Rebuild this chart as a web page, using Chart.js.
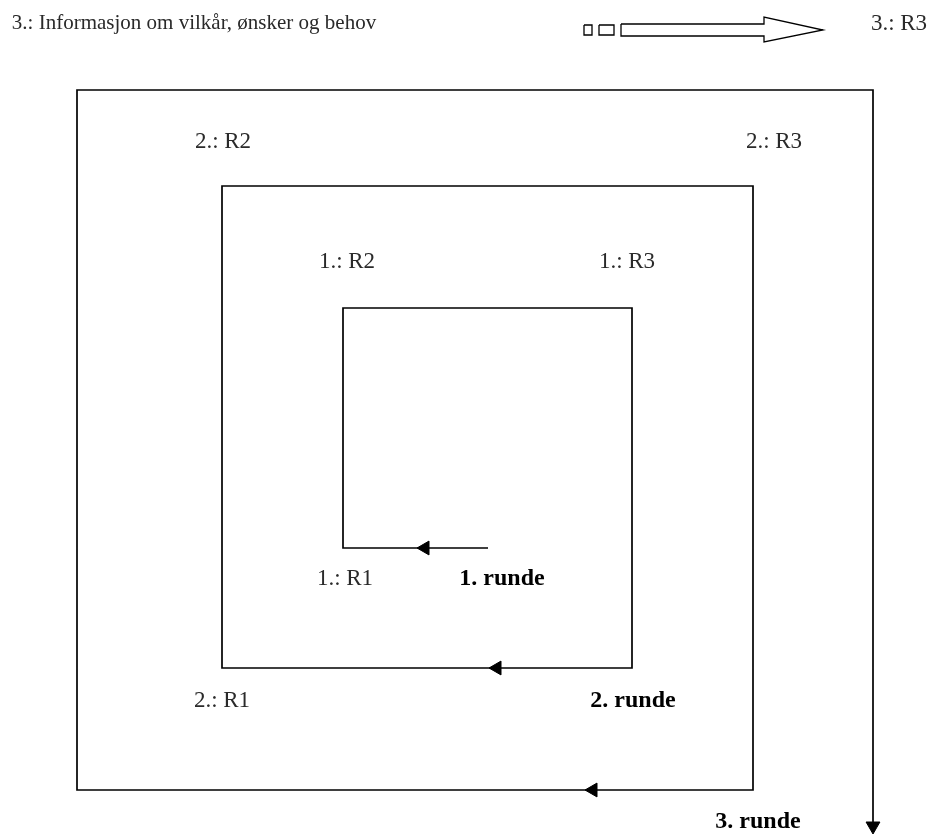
<!DOCTYPE html>
<html lang="no">
<head>
    <meta charset="UTF-8">
    <title>Runder</title>
    <script src="https://cdn.jsdelivr.net/npm/chart.js"></script>
    <style>
        body { margin: 0; background: #fff; }
        .wrap { width: 936px; height: 835px; position: relative; }
    </style>
</head>
<body>
    <div class="wrap"><canvas id="spiral"></canvas></div>

    <script>
        // spiralen (1., 2. og 3. runde) som en sammenhengende linje
        const spiralX = [488, 343, 343, 632, 632, 222, 222, 753, 753, 77, 77, 873, 873];
        const spiralY = [548, 548, 308, 308, 668, 668, 186, 186, 790, 790, 90, 90, 826];

        // pilspisser langs spiralen
        const arrowX = [425, 497, 593, 873];
        const arrowY = [548, 668, 790, 826];
        const arrowRot = [-90, -90, -90, 180];

        // blokkpil øverst + to små firkanter
        const blockX = [621, 764, 764, 823, 764, 764, 621, 621];
        const blockY = [24, 24, 17, 30, 42, 36, 36, 24];
        const sq1X = [584, 592, 592, 584, 584];
        const sq1Y = [25, 25, 35, 35, 25];
        const sq2X = [599, 614, 614, 599, 599];
        const sq2Y = [25, 25, 35, 35, 25];

        // tekster (x = midten, y = grunnlinje)
        const labelText = ['3.: Informasjon om vilkår, ønsker og behov', '3.: R3',
            '2.: R2', '2.: R3', '1.: R2', '1.: R3', '1.: R1', '1. runde',
            '2.: R1', '2. runde', '3. runde'];
        const labelX = [194, 899, 223, 774, 347, 627, 345, 502, 222, 633, 758];
        const labelY = [29, 30, 148, 148, 268, 268, 585, 585, 707, 707, 828];
        const labelBold = [false, false, false, false, false, false, false, true, false, true, true];

        const pts = (xs, ys) => xs.map((x, i) => ({ x: x, y: ys[i] }));

        const line = (xs, ys, w) => ({
            data: pts(xs, ys),
            showLine: true,
            borderColor: '#000',
            borderWidth: w,
            pointRadius: 0,
            fill: false,
            tension: 0
        });

        // tegner tekstene på skalaposisjoner
        const textPlugin = {
            id: 'texts',
            afterDatasetsDraw(chart) {
                const ctx = chart.ctx;
                const sx = chart.scales.x, sy = chart.scales.y;
                ctx.save();
                ctx.textAlign = 'center';
                ctx.textBaseline = 'alphabetic';
                labelText.forEach((t, i) => {
                    let size = labelBold[i] ? 24 : 23;
                    if (i === 0) size = 21;
                    ctx.font = (labelBold[i] ? 'bold ' : '') + size + 'px "Liberation Serif", serif';
                    ctx.fillStyle = labelBold[i] ? '#000' : '#2a2a2a';
                    ctx.fillText(t, sx.getPixelForValue(labelX[i]), sy.getPixelForValue(labelY[i]));
                });
                ctx.restore();
            }
        };

        new Chart(document.getElementById('spiral'), {
            type: 'scatter',
            data: {
                datasets: [
                    line(spiralX, spiralY, 1.7),
                    line(blockX, blockY, 1.3),
                    line(sq1X, sq1Y, 1.3),
                    line(sq2X, sq2Y, 1.3),
                    {
                        data: pts(arrowX, arrowY),
                        pointStyle: 'triangle',
                        rotation: arrowRot,
                        pointRadius: 8,
                        backgroundColor: '#000',
                        borderColor: '#000',
                        borderWidth: 1,
                        showLine: false
                    }
                ]
            },
            options: {
                responsive: true,
                maintainAspectRatio: false,
                animation: false,
                layout: { padding: 0, autoPadding: false },
                plugins: { legend: { display: false }, tooltip: { enabled: false } },
                scales: {
                    x: { type: 'linear', min: 0, max: 936, display: false },
                    y: { type: 'linear', min: 0, max: 835, reverse: true, display: false }
                }
            },
            plugins: [textPlugin]
        });
    </script>
</body>
</html>
